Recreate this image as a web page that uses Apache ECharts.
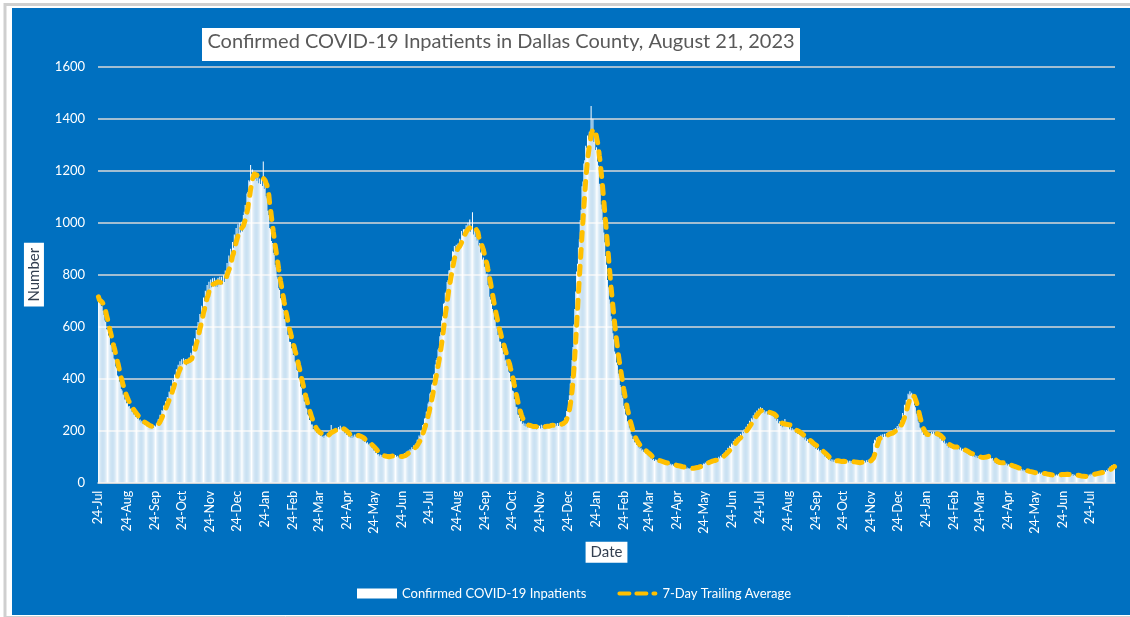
<!DOCTYPE html>
<html>
<head>
<meta charset="utf-8">
<title>Confirmed COVID-19 Inpatients in Dallas County</title>
<script src="https://cdn.jsdelivr.net/npm/echarts@6/dist/echarts.min.js"></script>
<style>
  html, body { margin: 0; padding: 0; background: #ffffff; }
  #chart { width: 1130px; height: 617px; }
</style>
</head>
<body>
<div id="chart"></div>
<script>
// Daily confirmed COVID-19 inpatients, Dallas County, one value per day from 24 Jul 2020.
const inpatients2020 = [ // 24 Jul - 31 Dec 2020
  715, 692, 708, 680, 679, 661, 645, 624,
  618, 590, 589, 566, 562, 531, 527, 504,
  503, 478, 474, 447, 441, 412, 408, 389,
  386, 360, 355, 339, 338, 320, 321, 306,
  309, 293, 295, 284, 285, 272, 273, 262,
  266, 254, 257, 246, 250, 239, 243, 232,
  238, 227, 231, 222, 227, 217, 222, 214,
  220, 211, 217, 209, 218, 211, 220, 216,
  229, 227, 244, 243, 261, 259, 279, 277,
  297, 294, 313, 310, 330, 327, 350, 348,
  373, 369, 395, 390, 416, 409, 436, 428,
  454, 441, 467, 452, 475, 456, 479, 460,
  475, 452, 476, 458, 482, 470, 500, 492,
  527, 519, 556, 549, 587, 578, 618, 607,
  649, 639, 681, 670, 712, 698, 738, 720,
  760, 737, 773, 747, 782, 752, 786, 756,
  788, 755, 781, 753, 788, 759, 792, 763,
  792, 763, 798, 772, 816, 798, 845, 826,
  874, 853, 900, 877, 926, 904, 955, 931,
  980, 948, 994, 958, 1000, 962, 1004, 966,
  1030
];

const inpatients2021 = [
  // Jan
  1042, 1068, 1061, 1112, 1118, 1163, 1158, 1222, 1186, 1205, 1180, 1197, 1168, 1184, 1160, 1179,
  1152, 1170, 1149, 1168, 1141, 1235, 1130, 1146, 1102, 1094, 1046, 1030, 980, 976, 930,
  // Feb
  922, 884, 876, 838, 829, 793, 784, 748, 741, 709, 703, 670, 664, 630, 629, 600,
  598, 569, 568, 542, 541, 517, 516, 491, 490, 466, 462, 433,
  // Mar
  430, 401, 397, 370, 365, 338, 335, 313, 310, 288, 284, 262, 258, 241, 240, 224,
  224, 207, 206, 196, 200, 192, 197, 186, 189, 180, 185, 176, 181, 173, 182,
  // Apr
  184, 179, 191, 186, 197, 188, 222, 192, 203, 196, 206, 198, 209, 203, 214, 206,
  219, 207, 212, 198, 205, 190, 196, 184, 190, 178, 184, 174, 180, 172,
  // May
  182, 175, 185, 178, 187, 180, 184, 174, 178, 168, 172, 162, 166, 157, 161, 152,
  156, 147, 151, 141, 144, 133, 135, 124, 127, 115, 118, 108, 110, 102, 108,
  // Jun
  107, 100, 105, 97, 104, 96, 103, 97, 104, 98, 106, 100, 108, 102, 110, 103,
  107, 100, 104, 97, 102, 93, 104, 99, 109, 102, 114, 107, 119, 112,
  // Jul
  124, 119, 129, 124, 136, 130, 143, 137, 150, 149, 165, 166, 182, 176, 199, 200,
  222, 225, 247, 250, 273, 275, 305, 311, 343, 348, 378, 384, 416, 420, 455,
  // Aug
  472, 480, 512, 518, 563, 579, 624, 640, 688, 692, 731, 735, 772, 779, 816, 818,
  852, 854, 890, 888, 910, 890, 915, 896, 920, 900, 938, 930, 968, 952, 975,
  // Sep
  975, 960, 990, 968, 1000, 975, 1012, 965, 985, 1040, 955, 972, 945, 960, 932, 938,
  912, 922, 885, 895, 858, 866, 830, 835, 800, 805, 760, 756, 715, 705,
  // Oct
  688, 668, 655, 628, 625, 596, 593, 568, 570, 543, 542, 518, 519, 494, 497, 470,
  474, 449, 452, 427, 422, 390, 388, 355, 352, 322, 320, 292, 290, 262, 260,
  // Nov
  250, 236, 239, 226, 232, 219, 228, 216, 225, 212, 224, 213, 223, 210, 222, 208,
  220, 209, 221, 206, 222, 211, 219, 208, 223, 210, 220, 207, 224, 212,
  // Dec
  222, 212, 226, 216, 228, 215, 227, 218, 229, 216, 228, 219, 230, 218, 231, 220,
  232, 223, 235, 232, 250, 252, 276, 284, 318, 336, 382, 410, 472, 522, 608
];

const inpatients2022 = [
  // Jan
  668, 735, 812, 842, 905, 936, 1010, 1050, 1140, 1158, 1228, 1240, 1296, 1288, 1335, 1322,
  1350, 1330, 1449, 1335, 1400, 1310, 1330, 1280, 1290, 1235, 1220, 1150, 1140, 1070, 1052,
  // Feb
  1010, 962, 925, 872, 838, 780, 752, 705, 688, 640, 622, 575, 552, 505, 496, 462,
  452, 420, 410, 376, 368, 336, 326, 296, 284, 262, 258, 236,
  // Mar
  232, 212, 206, 186, 181, 168, 170, 156, 159, 146, 148, 135, 139, 130, 134, 124,
  128, 119, 123, 113, 117, 106, 110, 100, 104, 94, 97, 87, 91, 83, 89,
  // Apr
  88, 82, 86, 79, 84, 77, 82, 75, 80, 73, 78, 71, 77, 70, 75, 68,
  73, 67, 71, 65, 69, 63, 67, 61, 66, 60, 64, 58, 63, 57,
  // May
  61, 55, 59, 54, 58, 53, 57, 53, 57, 53, 58, 55, 60, 57, 62, 59,
  64, 60, 67, 64, 69, 67, 74, 72, 78, 76, 82, 78, 84, 80, 86,
  // Jun
  87, 82, 89, 84, 91, 86, 95, 90, 100, 94, 104, 98, 110, 104, 115, 113,
  125, 120, 134, 129, 142, 137, 151, 146, 160, 155, 169, 162, 174, 167,
  // Jul
  180, 172, 188, 181, 197, 190, 206, 199, 215, 206, 226, 220, 238, 231, 248, 243,
  259, 252, 270, 262, 278, 268, 285, 275, 290, 279, 287, 274, 280, 266, 274,
  // Aug
  275, 262, 274, 260, 276, 259, 270, 254, 263, 246, 255, 238, 245, 229, 236, 218,
  224, 213, 228, 216, 245, 219, 231, 214, 220, 206, 216, 200, 209, 197, 206,
  // Sep
  204, 192, 202, 188, 197, 184, 191, 179, 186, 173, 182, 166, 174, 160, 167, 154,
  160, 148, 156, 143, 150, 137, 144, 131, 137, 126, 132, 121, 126, 116,
  // Oct
  120, 110, 113, 101, 106, 95, 98, 88, 91, 83, 90, 82, 89, 81, 88, 80,
  87, 79, 86, 78, 85, 78, 86, 77, 85, 78, 86, 77, 85, 78, 84,
  // Nov
  84, 77, 83, 76, 82, 75, 81, 74, 80, 74, 81, 75, 82, 76, 83, 77,
  84, 78, 86, 80, 88, 82, 89, 84, 90, 86, 152, 165, 162, 174,
  // Dec
  176, 166, 180, 170, 184, 173, 186, 176, 188, 178, 190, 181, 194, 184, 198, 188,
  200, 190, 204, 196, 210, 202, 218, 210, 226, 218, 240, 236, 268, 260, 300
];

const inpatients2023 = [ // 1 Jan - 20 Aug 2023
  // Jan
  296, 318, 320, 342, 336, 352, 340, 346, 326, 322, 298, 290, 266, 258, 236, 230,
  212, 208, 194, 195, 184, 188, 179, 185, 178, 186, 181, 190, 184, 195, 188,
  // Feb
  196, 185, 193, 181, 190, 178, 184, 170, 177, 162, 169, 155, 162, 149, 154, 141,
  147, 134, 143, 133, 143, 132, 142, 131, 142, 130, 141, 129,
  // Mar
  138, 128, 135, 124, 131, 120, 127, 116, 123, 112, 119, 108, 115, 105, 112, 102,
  109, 99, 106, 97, 104, 95, 103, 94, 101, 92, 99, 91, 101, 96, 106,
  // Apr
  107, 100, 108, 101, 104, 93, 95, 84, 86, 76, 78, 72, 79, 73, 80, 74,
  81, 75, 80, 72, 77, 69, 74, 66, 71, 63, 68, 60, 65, 58,
  // May
  63, 56, 60, 53, 58, 51, 56, 48, 53, 46, 51, 44, 49, 42, 47, 40,
  45, 39, 43, 37, 41, 35, 41, 34, 40, 34, 40, 34, 39, 33, 39,
  // Jun
  38, 32, 37, 31, 35, 29, 34, 28, 32, 27, 31, 26, 30, 26, 31, 27,
  32, 28, 33, 29, 34, 29, 35, 30, 35, 30, 34, 29, 34, 29,
  // Jul
  33, 28, 32, 28, 33, 27, 31, 26, 30, 25, 29, 24, 27, 22, 26, 21,
  26, 22, 28, 24, 30, 26, 32, 28, 34, 30, 35, 31, 37, 33, 39,
  // Aug
  40, 35, 41, 36, 43, 38, 45, 40, 47, 42, 49, 45, 55, 51, 62, 58,
  67, 62, 70, 66
];

const FIRST_DAY = [2020, 6, 24];          // 24 Jul 2020 (month is 0-based)
const MONTH_NAMES = ['Jan', 'Feb', 'Mar', 'Apr', 'May', 'Jun', 'Jul', 'Aug', 'Sep', 'Oct', 'Nov', 'Dec'];
const Y_MIN = 0, Y_MAX = 1600, Y_STEP = 200;

const inpatients = [].concat(inpatients2020, inpatients2021, inpatients2022, inpatients2023);

// One ISO date per day of data
const dates = inpatients.map((_, i) =>
  new Date(Date.UTC(FIRST_DAY[0], FIRST_DAY[1], FIRST_DAY[2] + i)).toISOString().slice(0, 10));

// 7-day trailing average of the daily counts
const trailingAverage = inpatients.map((_, i) => {
  const win = inpatients.slice(Math.max(0, i - 6), i + 1);
  return Math.round(win.reduce((a, b) => a + b, 0) / win.length * 10) / 10;
});

// Ticks and labels fall on the 24th of every month
const onThe24th = (idx, value) => value.slice(8, 10) === '24';
const shortDate = v => Number(v.slice(8, 10)) + '-' + MONTH_NAMES[Number(v.slice(5, 7)) - 1];

const FONT = 'Lato, "Open Sans", "Liberation Sans", sans-serif';
// dashed-line key: two dashes and a dot, drawn in a 40x10 box
const DASH_ICON = 'path://M2,3h10a2,2 0 0 1 0,4h-10a2,2 0 0 1 0,-4z M19,3h10a2,2 0 0 1 0,4h-10a2,2 0 0 1 0,-4z M36,3h2a2,2 0 0 1 0,4h-2a2,2 0 0 1 0,-4z';

const chart = echarts.init(document.getElementById('chart'), null, { renderer: 'canvas' });

chart.setOption({
  animation: false,
  backgroundColor: '#ffffff',
  textStyle: { fontFamily: FONT },
  graphic: [
    // blue plate and the light frame around it
    { type: 'rect', z: -100, silent: true, shape: { x: 12, y: 8, width: 1118, height: 607 }, style: { fill: '#0070C0' } },
    { type: 'line', z: -100, silent: true, shape: { x1: 5, y1: 3, x2: 5, y2: 617 }, style: { stroke: '#CFCFCF', lineWidth: 3 } },
    { type: 'line', z: -100, silent: true, shape: { x1: 4, y1: 4.5, x2: 1130, y2: 4.5 }, style: { stroke: '#CFCFCF', lineWidth: 3 } },
    { type: 'line', z: -100, silent: true, shape: { x1: 4, y1: 616.5, x2: 1130, y2: 616.5 }, style: { stroke: '#CFCFCF', lineWidth: 1 } },
    // white box behind the title
    { type: 'rect', z: 5, silent: true, shape: { x: 202, y: 28, width: 598, height: 33 }, style: { fill: '#ffffff' } }
  ],
  title: {
    text: 'Confirmed COVID-19 Inpatients in Dallas County, August 21, 2023',
    left: 501, top: 32, textAlign: 'center', z: 6, padding: 0,
    textStyle: { color: '#595959', fontSize: 20, fontWeight: 'normal', fontFamily: FONT }
  },
  legend: {
    left: 357, top: 587, padding: 0,
    itemWidth: 40, itemHeight: 10, itemGap: 31,
    textStyle: { color: '#ffffff', fontSize: 13, fontFamily: FONT },
    data: [
      { name: 'Confirmed COVID-19 Inpatients', icon: 'rect' },
      { name: '7-Day Trailing Average', icon: DASH_ICON }
    ]
  },
  grid: { left: 98, right: 15, top: 66.7, bottom: 134.3 },
  xAxis: {
    type: 'category',
    data: dates,
    boundaryGap: true,
    axisLine: { lineStyle: { color: '#D9D9D9', width: 1.5 } },
    axisTick: { interval: onThe24th, alignWithLabel: true, length: 5, lineStyle: { color: '#D9D9D9', width: 1.5 } },
    axisLabel: { interval: onThe24th, rotate: 90, color: '#ffffff', fontSize: 12.5, margin: 8, formatter: shortDate, fontFamily: FONT },
    splitLine: { show: false },
    name: 'Date',
    nameLocation: 'middle',
    nameGap: 56,
    nameTextStyle: { color: '#333F50', fontSize: 15, backgroundColor: '#ffffff', padding: [3, 5, 3, 5], fontFamily: FONT }
  },
  yAxis: {
    type: 'value',
    min: Y_MIN, max: Y_MAX, interval: Y_STEP,
    axisLine: { show: false },
    axisTick: { show: false },
    axisLabel: { color: '#ffffff', fontSize: 13, margin: 13, fontFamily: FONT, formatter: v => String(v) },
    splitLine: { lineStyle: { color: '#D9D9D9', width: 1.5 } },
    name: 'Number',
    nameLocation: 'middle',
    nameRotate: 90,
    nameGap: 45,
    nameTextStyle: { color: '#333F50', fontSize: 15, lineHeight: 16, backgroundColor: '#ffffff', padding: [2, 5, 2, 5], fontFamily: FONT }
  },
  series: [
    {
      name: 'Confirmed COVID-19 Inpatients',
      type: 'bar',
      data: inpatients,
      barCategoryGap: '10%',
      itemStyle: { color: '#ffffff' },
      z: 2
    },
    {
      name: '7-Day Trailing Average',
      type: 'line',
      data: trailingAverage,
      symbol: 'none',
      showSymbol: false,
      smooth: false,
      lineStyle: { color: '#FFC000', width: 5, type: [8, 9], cap: 'round', join: 'round' },
      itemStyle: { color: '#FFC000' },
      z: 3
    }
  ]
});
</script>
</body>
</html>
